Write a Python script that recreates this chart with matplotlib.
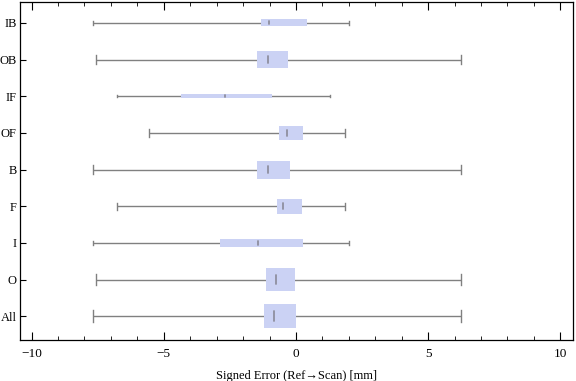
import matplotlib
matplotlib.use("Agg")
import matplotlib.pyplot as plt
from matplotlib.patches import Rectangle
from matplotlib.ticker import MultipleLocator

# Data (bottom to top)
categories = ["All", "O", "I", "F", "B", "OF", "IF", "OB", "IB"]
whisker_lo = [-7.67, -7.56, -7.67, -6.76, -7.67, -5.55, -6.76, -7.56, -7.67]
q1         = [-1.21, -1.14, -2.88, -0.72, -1.48, -0.64, -4.35, -1.48, -1.32]
median     = [-0.82, -0.75, -1.44, -0.48, -1.05, -0.33, -2.69, -1.05, -1.02]
q3         = [-0.01, -0.04, 0.26, 0.23, -0.23, 0.26, -0.92, -0.30, 0.42]
whisker_hi = [6.23, 6.23, 1.99, 1.87, 6.23, 1.87, 1.27, 6.23, 1.99]
# relative box thickness (reflects sample size)
box_thickness = [0.65, 0.62, 0.22, 0.40, 0.49, 0.40, 0.11, 0.46, 0.19]

box_color = "#cbd2f4"
line_color = "#808080"

plt.rcParams["font.family"] = ["Liberation Serif", "DejaVu Serif"]

fig = plt.figure(figsize=(5.76, 3.81), dpi=100)
ax = fig.add_axes([0.0347, 0.1076, 0.9601, 0.8872])

for i, cat in enumerate(categories):
    y = i + 1
    h = box_thickness[i]
    # whiskers
    ax.plot([whisker_lo[i], whisker_hi[i]], [y, y], color=line_color, lw=1.0, zorder=1,
            solid_capstyle="butt")
    for xv in (whisker_lo[i], whisker_hi[i]):
        ax.plot([xv, xv], [y - h / 4, y + h / 4], color=line_color, lw=1.0, zorder=1)
    # box
    ax.add_patch(Rectangle((q1[i], y - h / 2), q3[i] - q1[i], h,
                           facecolor=box_color, edgecolor="none", zorder=2))
    # median
    mh = max(0.42 * h, 0.05)
    ax.plot([median[i], median[i]], [y - mh / 2, y + mh / 2], color="#8f8f9f",
            lw=1.3, zorder=3, solid_capstyle="round")

ax.set_xlim(-10.44, 10.48)
ax.set_ylim(0.35, 9.57)
ax.xaxis.set_minor_locator(MultipleLocator(1))
ax.set_yticks(range(1, len(categories) + 1))
ax.set_yticklabels(categories)
ax.set_xticks([-10, -5, 0, 5, 10])
ax.set_xticklabels(["\u221210", "\u22125", "0", "5", "10"])

ax.tick_params(axis="x", which="major", direction="in", length=6, width=0.8,
               top=True, bottom=True, labelsize=9.5, pad=6)
ax.tick_params(axis="x", which="minor", direction="in", length=3, width=0.6,
               top=True, bottom=True)
ax.tick_params(axis="y", which="major", direction="in", length=4, width=0.8,
               left=True, right=False, labelsize=9, pad=2.5)
for sp in ax.spines.values():
    sp.set_linewidth(0.9)

ax.set_xlabel("Signed Error (Ref\u2192Scan) [mm]", fontsize=9, labelpad=7)

fig.savefig("out.png", dpi=100)
